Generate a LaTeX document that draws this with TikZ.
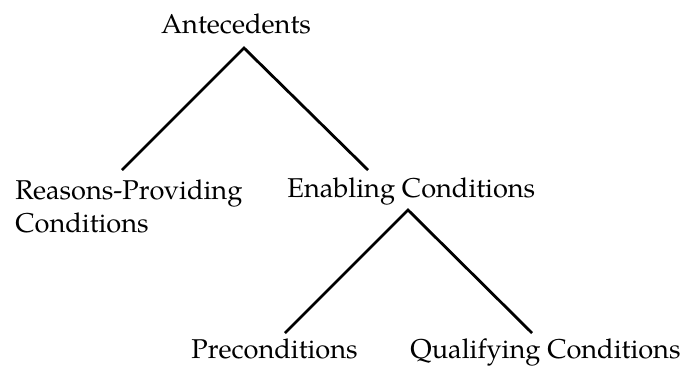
\documentclass[tikz,border=0pt]{standalone}
\usepackage{fontspec}
\setmainfont{texgyrepagella}[Extension=.otf,UprightFont=*-regular,BoldFont=*-bold,ItalicFont=*-italic,BoldItalicFont=*-bolditalic]
\usetikzlibrary{positioning}

\begin{document}
\begin{tikzpicture}[
  x=0.5pt, y=-0.5pt,
  term/.style={inner sep=0pt, anchor=base west, font=\fontsize{13.6}{16.5}\selectfont, align=left},
  branch/.style={line width=1.4pt}
]
  \useasboundingbox (0,0) rectangle (683,370);

  \node[term, anchor=base] (ante) at (236,33) {Antecedents};
  % base of a two-line node sits on its last line
  \node[term] (reasons) at (15,232) {Reasons-Providing\\Conditions};
  \node[term] (enabling) at (287,197) {Enabling Conditions};
  \node[term] (precond) at (191,358) {Preconditions};
  \node[term] (qualif) at (410,358) {Qualifying Conditions};

  \draw[branch] ([shift={(107,-62)}]reasons.base west) -- ([shift={(8,15)}]ante.base) -- ([shift={(81,-27)}]enabling.base west);
  \draw[branch] ([shift={(94,-25)}]precond.base west) -- ([shift={(121,13)}]enabling.base west) -- ([shift={(122,-25)}]qualif.base west);
\end{tikzpicture}
\end{document}
